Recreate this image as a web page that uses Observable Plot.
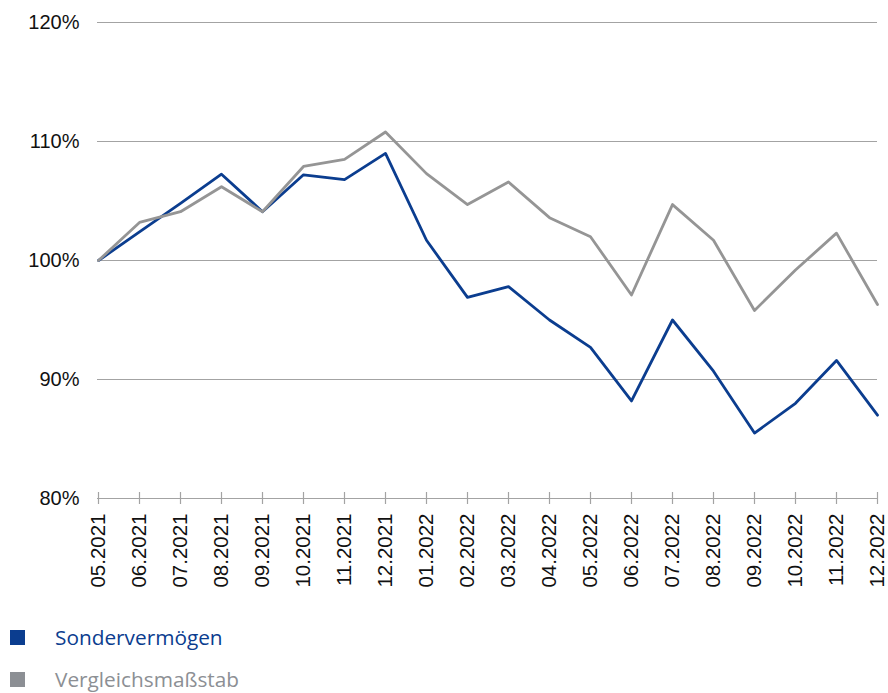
<!DOCTYPE html>
<html>
<head>
<meta charset="utf-8">
<script src="https://cdn.jsdelivr.net/npm/d3@7"></script>
<script src="https://cdn.jsdelivr.net/npm/@observablehq/plot@0.6"></script>
<style>
  html, body { margin: 0; padding: 0; background: #fff; }
  #wrap { width: 888px; height: 693px; overflow: hidden; position: relative; }
  .legend { position: absolute; left: 10px; font-family: "Open Sans", "Noto Sans", sans-serif; font-size: 20.8px; display: flex; align-items: center; }
  .legend .sw { width: 15px; height: 15px; margin-right: 30px; }
</style>
</head>
<body>
<div id="wrap"></div>
<script>
const months = ["05.2021","06.2021","07.2021","08.2021","09.2021","10.2021","11.2021","12.2021",
  "01.2022","02.2022","03.2022","04.2022","05.2022","06.2022","07.2022","08.2022","09.2022","10.2022","11.2022","12.2022"];
const sondervermoegen = [100, 102.4, 104.8, 107.25, 104.1, 107.2, 106.8, 109.0, 101.7, 96.9, 97.8, 95.0, 92.7, 88.2, 95.0, 90.7, 85.5, 88.0, 91.6, 87.0];
const vergleich = [100, 103.2, 104.1, 106.2, 104.1, 107.9, 108.5, 110.8, 107.3, 104.7, 106.6, 103.6, 102.0, 97.1, 104.7, 101.7, 95.8, 99.2, 102.3, 96.3];
const yTicks = [80, 90, 100, 110, 120];
const gridTicks = [90, 100, 110, 120];
const seriesNames = ["Sondervermögen", "Vergleichsmaßstab"];
const seriesColors = ["#0b3d8f", "#959595"];
const legendColors = ["#0b3d8f", "#8c8f94"];

const rows = [];
months.forEach((m, i) => {
  rows.push({month: m, value: sondervermoegen[i], series: seriesNames[0]});
  rows.push({month: m, value: vergleich[i], series: seriesNames[1]});
});

const chart = Plot.plot({
  width: 888,
  height: 600,
  marginLeft: 97,
  marginRight: 11,
  marginTop: 22,
  marginBottom: 102,
  style: {fontFamily: "'Liberation Sans', Arial, sans-serif", fontSize: "20px", color: "#000", background: "#fff"},
  x: {type: "point", domain: months, padding: 0},
  y: {domain: [80, 120]},
  marks: [
    Plot.ruleY(gridTicks, {stroke: "#a3a3a3", strokeWidth: 1.2}),
    Plot.ruleY([80], {stroke: "#a3a3a3", strokeWidth: 1.2}),
    Plot.ruleX(months, {x: d => d, y1: 80, y2: 80, insetTop: -6, insetBottom: -6, stroke: "#a3a3a3", strokeWidth: 1.2}),
    Plot.axisY(yTicks, {tickSize: 0, tickPadding: 18, tickFormat: d => d + "%", fontSize: 20, fill: "#111", label: null}),
    Plot.axisX(months, {tickSize: 0, tickPadding: 15, tickRotate: -90, fontSize: 20.5, fill: "#111", label: null}),
    Plot.line(rows.filter(d => d.series === seriesNames[0]), {x: "month", y: "value", stroke: seriesColors[0], strokeWidth: 2.8}),
    Plot.line(rows.filter(d => d.series === seriesNames[1]), {x: "month", y: "value", stroke: seriesColors[1], strokeWidth: 2.8})
  ]
});
const wrap = document.getElementById("wrap");
wrap.appendChild(chart);

const tops = [623, 665];
seriesNames.forEach((name, i) => {
  const item = document.createElement("div");
  item.className = "legend";
  item.style.top = tops[i] + "px";
  item.style.color = legendColors[i];
  const sw = document.createElement("span");
  sw.className = "sw";
  sw.style.background = legendColors[i];
  const tx = document.createElement("span");
  tx.textContent = name;
  item.appendChild(sw);
  item.appendChild(tx);
  wrap.appendChild(item);
});
</script>
</body>
</html>
